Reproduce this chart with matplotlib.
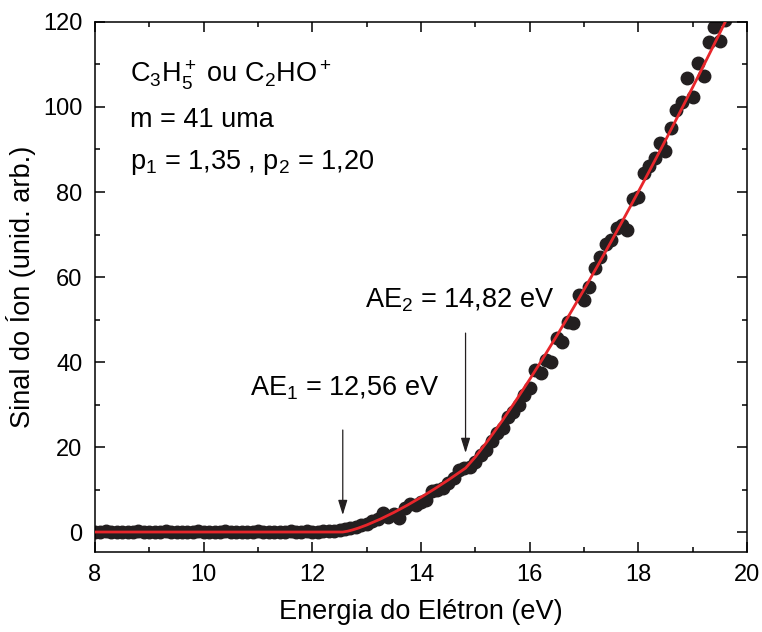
import numpy as np
import matplotlib.pyplot as plt

plt.rcParams['font.family'] = ['Liberation Sans', 'DejaVu Sans']
plt.rcParams['mathtext.fontset'] = 'custom'
plt.rcParams['mathtext.rm'] = 'Liberation Sans'
plt.rcParams['mathtext.it'] = 'Liberation Sans:italic'
plt.rcParams['mathtext.default'] = 'regular'

# measured ion signal (electron energy in eV)
energy = [8.0, 8.1, 8.2, 8.3, 8.4, 8.5, 8.6, 8.7, 8.8, 8.9,
          9.0, 9.1, 9.2, 9.3, 9.4, 9.5, 9.6, 9.7, 9.8, 9.9,
          10.0, 10.1, 10.2, 10.3, 10.4, 10.5, 10.6, 10.7, 10.8, 10.9,
          11.0, 11.1, 11.2, 11.3, 11.4, 11.5, 11.6, 11.7, 11.8, 11.9,
          12.0, 12.1, 12.2, 12.3, 12.4, 12.5, 12.6, 12.7, 12.8, 12.9,
          13.0, 13.1, 13.2, 13.3, 13.4, 13.5, 13.6, 13.7, 13.8, 13.9,
          14.0, 14.1, 14.2, 14.3, 14.4, 14.5, 14.6, 14.7, 14.8, 14.9,
          15.0, 15.1, 15.2, 15.3, 15.4, 15.5, 15.6, 15.7, 15.8, 15.9,
          16.0, 16.1, 16.2, 16.3, 16.4, 16.5, 16.6, 16.7, 16.8, 16.9,
          17.0, 17.1, 17.2, 17.3, 17.4, 17.5, 17.6, 17.7, 17.8, 17.9,
          18.0, 18.1, 18.2, 18.3, 18.4, 18.5, 18.6, 18.7, 18.8, 18.9,
          19.0, 19.1, 19.2, 19.3, 19.4, 19.5, 19.6, 19.7]
signal = [0.1, 0.0, 0.2, -0.1, 0.1, 0.0, 0.1, -0.1, 0.2, 0.0,
          0.1, -0.1, 0.0, 0.2, 0.1, 0.0, -0.1, 0.1, 0.0, 0.2,
          0.0, 0.1, -0.1, 0.1, 0.2, 0.0, 0.1, -0.1, 0.0, 0.1,
          0.2, 0.0, 0.1, 0.0, -0.1, 0.1, 0.2, 0.0, 0.1, 0.2,
          0.1, 0.1, 0.2, 0.3, 0.2, 0.4, 0.6, 0.9, 1.2, 1.6,
          1.9, 2.6, 3.0, 4.5, 3.6, 4.2, 3.3, 5.6, 6.6, 6.4,
          7.0, 7.6, 9.6, 10.0, 10.4, 11.6, 12.8, 14.6, 15.0, 15.3,
          16.5, 18.1, 19.3, 21.5, 23.3, 24.5, 27.1, 28.2, 29.9, 32.2,
          33.9, 38.1, 37.5, 40.5, 40.0, 45.6, 44.7, 49.4, 49.2, 55.8,
          54.6, 57.6, 62.1, 64.7, 67.8, 68.7, 71.5, 72.2, 71.1, 78.4,
          78.8, 84.5, 86.1, 88.0, 91.5, 89.6, 95.1, 99.3, 101.2, 106.8,
          102.4, 110.4, 107.3, 115.3, 118.8, 115.5, 120.5, 122.0]

# fitted threshold curve
fit_e = [8.0, 12.56, 12.65, 12.75, 12.85, 13.0, 13.25, 13.5, 13.75, 14.0,
         14.25, 14.5, 14.82, 15.0, 15.25, 15.5, 15.75, 16.0, 16.25, 16.5,
         16.75, 17.0, 17.25, 17.5, 17.75, 18.0, 18.25, 18.5, 18.75, 19.0,
         19.25, 19.5, 19.75]
fit_s = [0.0, 0.0, 0.19, 0.53, 0.94, 1.65, 3.03, 4.60, 6.32, 8.18,
         10.15, 12.23, 15.04, 17.65, 21.82, 26.28, 31.00, 35.90, 40.97, 46.18,
         51.54, 57.03, 62.63, 68.34, 74.16, 80.07, 86.08, 92.18, 98.38, 104.64,
         110.99, 117.42, 123.93]

ae1, ae2 = 12.56, 14.82
fs = 19.5

fig = plt.figure(figsize=(7.62, 6.32), dpi=100)
ax = fig.add_axes([0.1247, 0.1266, 0.8556, 0.8386])

ax.plot(energy, signal, 'o', color='#231f20', ms=9, mec='#231f20', zorder=2)
ax.plot(fit_e, fit_s, color='#e8262b', lw=2.0, zorder=3)

arrow = dict(arrowstyle='-|>,head_length=0.9,head_width=0.28', color='#231f20',
             lw=0.9, mutation_scale=10, shrinkA=0, shrinkB=0)
ax.annotate('', xy=(ae1, 4.0), xytext=(ae1, 24.0), arrowprops=arrow)
ax.annotate('', xy=(ae2, 18.6), xytext=(ae2, 46.8), arrowprops=arrow)
ax.text(10.85, 33.9, r'AE$_1$ = 12,56 eV', fontsize=fs, va='center', ha='left')
ax.text(12.97, 54.6, r'AE$_2$ = 14,82 eV', fontsize=fs, va='center', ha='left')

ax.text(8.64, 107.5, r'$C_3H_5^+$ ou $C_2HO^+$', fontsize=fs, va='center')
ax.text(8.64, 97.0, 'm = 41 uma', fontsize=fs, va='center')
ax.text(8.64, 87.0, r'p$_1$ = 1,35 , p$_2$ = 1,20', fontsize=fs, va='center')

ax.set_xlim(8, 20)
ax.set_ylim(-4.7, 120)
ax.set_xticks([8, 10, 12, 14, 16, 18, 20])
ax.set_xticks(np.arange(9, 20, 2), minor=True)
ax.set_yticks([0, 20, 40, 60, 80, 100, 120])
ax.set_yticks([10, 30, 50, 70, 90, 110], minor=True)
ax.tick_params(which='both', direction='in', top=True, right=True,
               width=1.1, labelsize=17)
ax.tick_params(which='major', length=7)
ax.tick_params(which='minor', length=3.5)
ax.tick_params(axis='x', pad=9)
ax.tick_params(axis='y', pad=9)
for sp in ax.spines.values():
    sp.set_linewidth(1.1)

ax.set_xlabel('Energia do Elétron (eV)', fontsize=fs, labelpad=9)
ax.set_ylabel('Sinal do Íon (unid. arb.)', fontsize=fs, labelpad=5)

fig.savefig('out.png', dpi=100)
